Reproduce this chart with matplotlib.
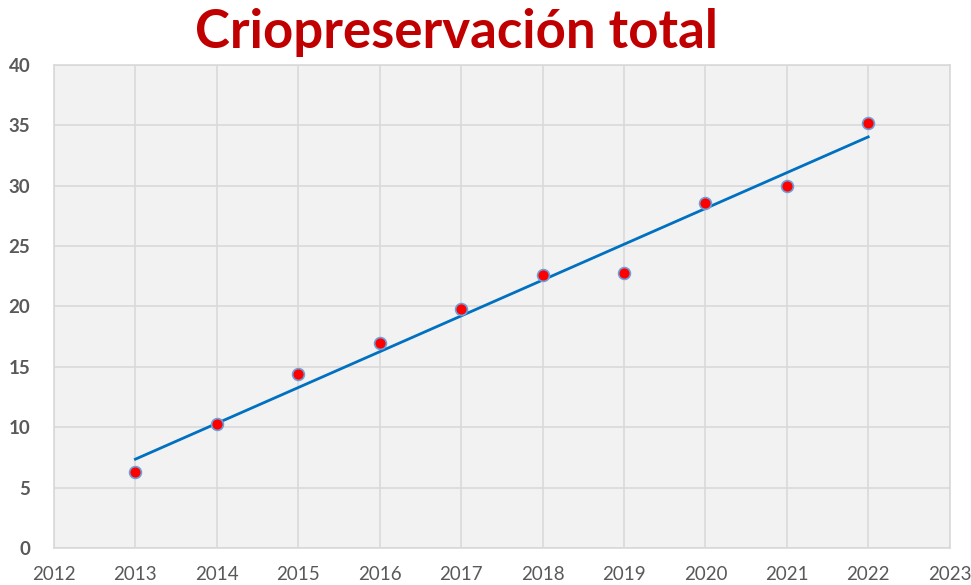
import matplotlib.pyplot as plt
import numpy as np

# datos
years = [2013, 2014, 2015, 2016, 2017, 2018, 2019, 2020, 2021, 2022]
values = [6.3, 10.3, 14.4, 17.0, 19.8, 22.6, 22.8, 28.6, 30.0, 35.2]
x_ticks = list(range(2012, 2024))
y_ticks = list(range(0, 45, 5))

plt.rcParams['font.family'] = ['Lato', 'DejaVu Sans']

fig = plt.figure(figsize=(9.71, 5.85), dpi=100)
ax = fig.add_axes([0.0556, 0.0632, 0.9224, 0.8258])
ax.set_facecolor('#f2f2f2')

# linea de tendencia
coef = np.polyfit(years, values, 1)
xs = np.array([years[0], years[-1]])
ax.plot(xs, np.polyval(coef, xs), color='#0070c0', lw=2, zorder=2)

# puntos
ax.plot(years, values, 'o', ms=8.5, mfc='red', mec='#6f9fd8', mew=1.2, zorder=3)

ax.set_xlim(2012, 2023)
ax.set_ylim(0, 40)
ax.set_xticks(x_ticks)
ax.set_yticks(y_ticks)
ax.grid(color='#d9d9d9', lw=1.2)
ax.set_axisbelow(True)
for s in ax.spines.values():
    s.set_color('#d9d9d9')
    s.set_linewidth(1.2)
ax.tick_params(axis='x', length=0, pad=13)
ax.tick_params(axis='y', length=0, pad=17)
for lab in ax.get_xticklabels():
    lab.set_fontsize(13.5)
    lab.set_color('#595959')
for lab in ax.get_yticklabels():
    lab.set_fontsize(13.5)
    lab.set_color('#595959')
    lab.set_fontweight('bold')

fig.text(0.47, 0.945, 'Criopreservación total', ha='center', va='center',
         fontsize=38, fontweight='bold', color='#c00000')

fig.savefig('out.png', dpi=100)
